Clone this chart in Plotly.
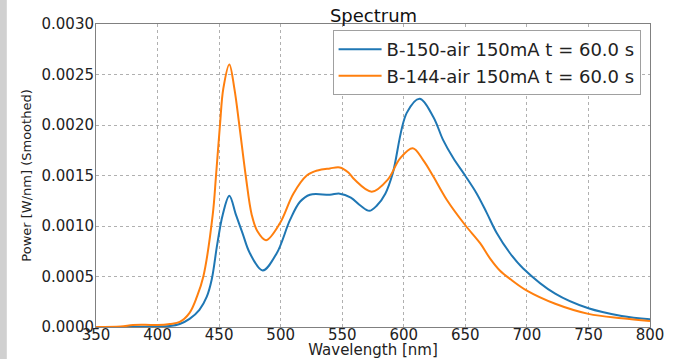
import plotly.graph_objects as go

wl_blue = [350, 380, 400, 410, 418, 426, 434, 440, 444, 448.5, 452.9, 458.3, 463.7, 469, 475, 485.4, 496.8, 507.6,
           515.7, 523.8, 540, 548, 557, 565, 572, 578, 585, 591, 602.4, 613, 624, 632, 640.3, 649.8, 659.3, 667.4,
           675.5, 686.3, 697, 723, 750, 777, 800]
p_blue = [0, 0, 0.000005, 0.00001, 0.00003, 0.00008, 0.00017, 0.0003, 0.00047, 0.00082, 0.00111, 0.0013, 0.00111,
          0.00093, 0.00073, 0.00056, 0.00073, 0.00106, 0.00124, 0.00131, 0.00131, 0.00132, 0.00128, 0.0012,
          0.00115, 0.0012, 0.00132, 0.00152, 0.00212, 0.00226, 0.00208, 0.00185, 0.00167, 0.0015, 0.00132,
          0.00113, 0.00093, 0.00073, 0.00058, 0.00033, 0.000185, 0.00011, 0.000076]

wl_orange = [350, 370, 380, 390, 400, 410, 418, 426, 432, 437.2, 444.8, 447.5, 450.7, 453.4, 458.3, 462.4, 466.4,
             471.6, 476.5, 481, 488.1, 499.5, 510.3, 521.2, 530, 540, 548, 555, 560, 574, 587, 597, 607.3, 615.9,
             624, 634.9, 649.8, 662, 670, 678, 687, 700, 723, 750, 777, 800]
p_orange = [0, 0.000005, 0.00002, 0.000022, 0.00002, 0.00003, 0.00005, 0.00014, 0.0003, 0.0005, 0.00111, 0.0015,
            0.002, 0.00236, 0.0026, 0.00236, 0.002, 0.0015, 0.00111, 0.00095, 0.00086, 0.00103, 0.00132, 0.0015,
            0.00155, 0.00157, 0.00158, 0.00153, 0.00146, 0.00134, 0.00146, 0.00167, 0.00177, 0.00165, 0.00149,
            0.00126, 0.00101, 0.00083, 0.00068, 0.00056, 0.00047, 0.00036, 0.00023, 0.00013, 0.000086, 0.00006]

name_blue = "B-150-air 150mA t = 60.0 s"
name_orange = "B-144-air 150mA t = 60.0 s"
x_ticks = [350, 400, 450, 500, 550, 600, 650, 700, 750, 800]
y_ticks = [0.0, 0.0005, 0.0010, 0.0015, 0.0020, 0.0025, 0.0030]

FONT = "DejaVu Sans"
TXT = "#222222"

fig = go.Figure()
fig.add_trace(go.Scatter(x=wl_blue, y=p_blue, mode="lines", name=name_blue,
                         line=dict(color="#1f77b4", width=2, shape="spline", smoothing=1.0)))
fig.add_trace(go.Scatter(x=wl_orange, y=p_orange, mode="lines", name=name_orange,
                         line=dict(color="#ff7f0e", width=2, shape="spline", smoothing=1.0)))

axis_common = dict(showgrid=True, gridcolor="#b0b0b0", griddash="dot", gridwidth=1,
                   showline=True, linecolor="#808080", linewidth=1, mirror=True,
                   zeroline=False, ticks="", automargin=False,
                   tickfont=dict(family=FONT, size=15, color=TXT))

fig.update_xaxes(range=[350, 800], tickvals=x_ticks, ticktext=[str(v) for v in x_ticks],
                 title=dict(text="Wavelength [nm]", font=dict(family=FONT, size=15, color=TXT), standoff=8),
                 ticklabelstandoff=-6,
                 **axis_common)
fig.update_yaxes(range=[0, 0.003], tickvals=y_ticks, ticktext=[f"{v:.4f}" for v in y_ticks],
                 title=dict(text="Power [W/nm] (Smoothed)", font=dict(family=FONT, size=13, color=TXT),
                            standoff=6),
                 ticklabelstandoff=-2,
                 **axis_common)

fig.update_layout(
    width=678, height=359,
    margin=dict(l=96, r=28, t=24, b=32),
    paper_bgcolor="white", plot_bgcolor="white",
    title=dict(text="Spectrum", x=373.5 / 678, xanchor="center", xref="container",
               y=1 - 15.5 / 359, yanchor="middle", yref="container",
               font=dict(family=FONT, size=18, color="#111111")),
    legend=dict(x=0.983, xanchor="right", y=0.98, yanchor="top",
                bgcolor="white", bordercolor="#a0a0a0", borderwidth=1,
                font=dict(family=FONT, size=18, color=TXT), itemwidth=43,
                tracegroupgap=0),
    showlegend=True,
    shapes=[dict(type="rect", xref="paper", yref="paper", x0=-0.1733, x1=-0.161, y0=-0.11, y1=1.09,
                 fillcolor="#d0d0d0", line=dict(width=0), layer="below")],
)

fig.write_html("out.html", config={"displayModeBar": False},
               post_script="document.body.style.margin='0';")
